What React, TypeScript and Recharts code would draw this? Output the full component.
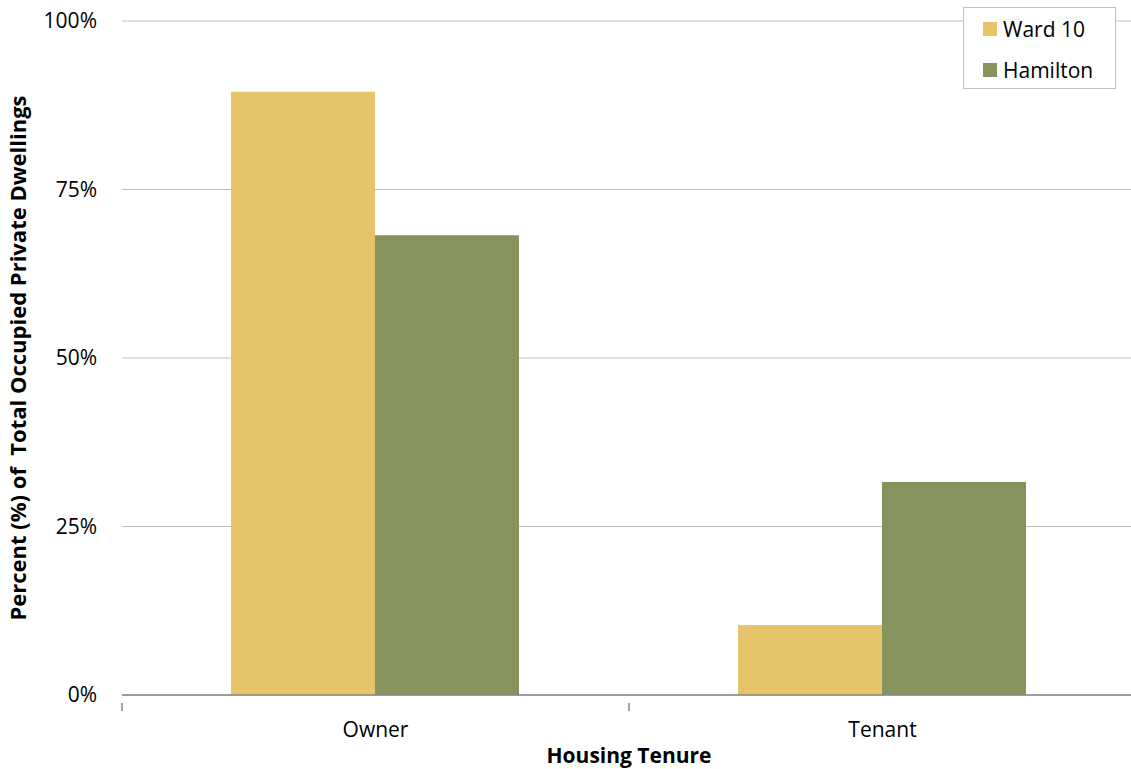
import React from "react";
import {
  BarChart, Bar, XAxis, YAxis, CartesianGrid, Label,
} from "recharts";

const categories = ["Owner", "Tenant"];
const ward10 = [0.895, 0.104];
const hamilton = [0.682, 0.316];
const yTicks = [0, 0.25, 0.5, 0.75, 1];

const series = [
  { key: "ward10", name: "Ward 10", color: "#E6C46A" },
  { key: "hamilton", name: "Hamilton", color: "#86935C" },
];

const data = categories.map((c, i) => ({
  name: c,
  ward10: ward10[i],
  hamilton: hamilton[i],
}));

const FONT = "'Open Sans', sans-serif";
const CHART_W = 1140;
const CHART_H = 769;
const MARGIN = { top: 21, right: 4, left: 0, bottom: 0 };
const Y_W = 122;
const X_H = 74;
const plotW = CHART_W - MARGIN.left - MARGIN.right - Y_W;
const halfBand = plotW / categories.length / 2;

const fmtPct = (v: number) => `${Math.round(v * 100)}%`;

const XTick = (props: any) => {
  const { x, y, payload } = props;
  return (
    <g>
      <line x1={x - halfBand} x2={x - halfBand} y1={y} y2={y + 8} stroke="#868686" strokeWidth={1.5} />
      <text x={x} y={y + 34} textAnchor="middle" fontFamily={FONT} fontSize={21} fill="#000">
        {payload.value}
      </text>
    </g>
  );
};

const LegendBox = () => (
  <div
    style={{
      position: "absolute", left: 963, top: 7,
      width: 153, height: 82, background: "#fff", border: "1.5px solid #BFBFBF",
      boxSizing: "border-box", fontFamily: FONT, fontSize: 21, color: "#000",
      padding: "0 0 0 19px",
    }}
  >
    {series.map((s) => (
      <div key={s.key} style={{ display: "flex", alignItems: "center", height: 41 }}>
        <span style={{ width: 14, height: 14, background: s.color, display: "inline-block", marginRight: 6 }} />
        {s.name}
      </div>
    ))}
  </div>
);

export default function App() {
  return (
    <div style={{ position: "relative", width: 1131, height: 769, overflow: "hidden", background: "#fff" }}>
      <style>{`body{margin:0}`}</style>
      <BarChart
        width={CHART_W}
        height={CHART_H}
        data={data}
        margin={MARGIN}
        barCategoryGap="21.5%"
        barGap={0}
      >
        <CartesianGrid vertical={false} stroke="#BFBFBF" strokeWidth={1.2} />
        <XAxis
          dataKey="name"
          axisLine={{ stroke: "#868686", strokeWidth: 1.5 }}
          tickLine={false}
          tick={<XTick />}
          height={X_H}
        >
          <Label
            value="Housing Tenure"
            position="insideBottom"
            offset={6}
            style={{ fontFamily: FONT, fontSize: 21, fontWeight: 700, fill: "#000" }}
          />
        </XAxis>
        <YAxis
          width={Y_W}
          domain={[0, 1]}
          ticks={yTicks}
          tickFormatter={fmtPct}
          axisLine={false}
          tickLine={false}
          tickSize={0}
          tickMargin={25}
          tick={{ fontFamily: FONT, fontSize: 21, fill: "#000" }}
        >
          <Label
            value={"Percent (%) of\u00A0 Total Occupied Private Dwellings"}
            angle={-90}
            position="insideLeft"
            offset={18}
            style={{ textAnchor: "middle", fontFamily: FONT, fontSize: 22, fontWeight: 700, fill: "#000" }}
          />
        </YAxis>
        {series.map((s) => (
          <Bar key={s.key} dataKey={s.key} name={s.name} fill={s.color} isAnimationActive={false} />
        ))}
      </BarChart>
      <LegendBox />
    </div>
  );
}
